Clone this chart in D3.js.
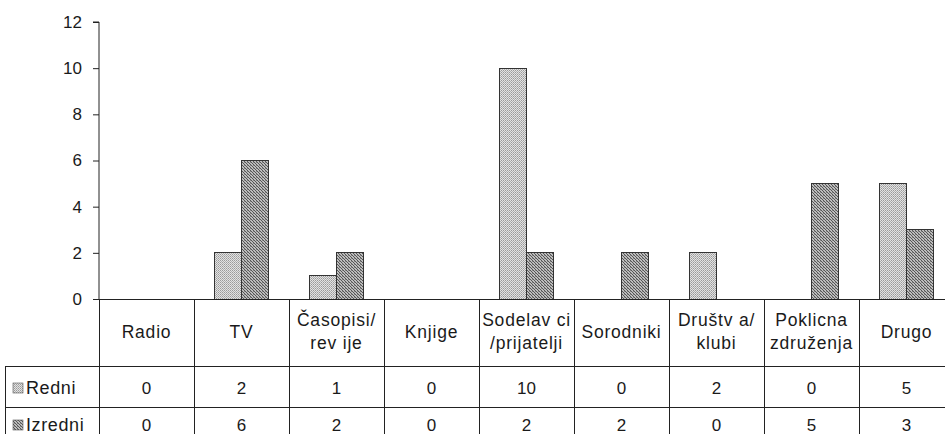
<!DOCTYPE html>
<html><head><meta charset="utf-8">
<script src="https://cdn.jsdelivr.net/npm/d3@7"></script>
<style>
html,body{margin:0;padding:0;background:#fff;}
svg{display:block;}
text{font-family:"Liberation Sans",Arial,sans-serif;fill:#1a1a1a;}
</style></head>
<body>
<svg id="c" width="945" height="434"></svg>
<script>
const categories = ["Radio","TV","Časopisi/\nrev ije","Knjige","Sodelav ci\n/prijatelji","Sorodniki","Društv a/\nklubi","Poklicna\nzdruženja","Drugo"];
const seriesNames = ["Redni","Izredni"];
const redni   = [0,2,1,0,10,0,2,0,5];
const izredni = [0,6,2,0,2,2,0,5,3];
const yTicks = [0,2,4,6,8,10,12];

const svg = d3.select("#c");
const defs = svg.append("defs");
const p1 = defs.append("pattern").attr("id","pRedni").attr("width",2).attr("height",2).attr("patternUnits","userSpaceOnUse");
p1.append("rect").attr("width",2).attr("height",2).attr("fill","#e2e2e2");
p1.append("rect").attr("width",1).attr("height",1).attr("fill","#9a9a9a");
p1.append("rect").attr("x",1).attr("y",1).attr("width",1).attr("height",1).attr("fill","#b0b0b0");
const p2 = defs.append("pattern").attr("id","pIzredni").attr("width",3).attr("height",3).attr("patternUnits","userSpaceOnUse");
p2.append("rect").attr("width",3).attr("height",3).attr("fill","#bdbdbd");
p2.append("rect").attr("x",0).attr("y",0).attr("width",1).attr("height",1).attr("fill","#555");
p2.append("rect").attr("x",1).attr("y",1).attr("width",1).attr("height",1).attr("fill","#555");
p2.append("rect").attr("x",2).attr("y",2).attr("width",1).attr("height",1).attr("fill","#555");
p2.append("rect").attr("x",2).attr("y",0).attr("width",1).attr("height",1).attr("fill","#8a8a8a");
const fills = {"Redni":"url(#pRedni)","Izredni":"url(#pIzredni)"};

const axisX = 99, colW = 95;
const y0 = 299, yTop = 22;
const x = d3.scaleBand().domain(categories).range([axisX, axisX + colW*categories.length]).padding(0);
const xs = d3.scaleBand().domain(seriesNames).range([20.5, 74.5]).padding(0);
const y = d3.scaleLinear().domain([0,12]).range([y0, yTop]);

const data = categories.map((c,i)=>({cat:c, vals:[{s:"Redni",v:redni[i]},{s:"Izredni",v:izredni[i]}]}));

const g = svg.append("g");
g.selectAll("g.cat").data(data).join("g").attr("class","cat")
  .attr("transform",d=>`translate(${x(d.cat)},0)`)
  .selectAll("rect").data(d=>d.vals.filter(v=>v.v>0)).join("rect")
  .attr("x",d=>xs(d.s)).attr("width",xs.bandwidth())
  .attr("y",d=>y(d.v)).attr("height",d=>y0-y(d.v))
  .attr("fill",d=>fills[d.s]).attr("stroke","#333").attr("stroke-width",1)
  .attr("shape-rendering","crispEdges");

const ax = svg.append("g").attr("transform",`translate(${axisX},0)`)
  .call(d3.axisLeft(y).tickValues(yTicks).tickSize(6).tickPadding(11).tickFormat(d3.format("d")));
ax.select(".domain").attr("stroke","#222").attr("d",`M-6,${yTop}H0V${y0}`);
ax.selectAll(".tick line").attr("stroke","#222");
ax.selectAll(".tick text").style("font-size","17px").attr("fill","#1a1a1a");

const rowTop = y0, row1 = 366, row2 = 407, bottom = 434, tableLeft = 5, right = 945;
const lines = svg.append("g").attr("stroke","#222").attr("stroke-width",1).attr("shape-rendering","crispEdges");
lines.append("line").attr("x1",axisX-6).attr("x2",right).attr("y1",y0).attr("y2",y0);
lines.append("line").attr("x1",axisX).attr("x2",axisX).attr("y1",y0).attr("y2",bottom);
categories.forEach(c=>{
  const xe = x(c)+x.bandwidth();
  lines.append("line").attr("x1",xe).attr("x2",xe).attr("y1",y0).attr("y2",bottom);
});
lines.append("line").attr("x1",tableLeft).attr("x2",right).attr("y1",row1).attr("y2",row1);
lines.append("line").attr("x1",tableLeft).attr("x2",right).attr("y1",row2).attr("y2",row2);
lines.append("line").attr("x1",tableLeft).attr("x2",tableLeft).attr("y1",row1).attr("y2",bottom);

const lab = svg.append("g");
categories.forEach(c=>{
  const parts = c.split("\n");
  const cx = x(c)+x.bandwidth()/2;
  const mid = (rowTop+row1)/2 - 1;
  const lh = 23;
  parts.forEach((p,i)=>{
    lab.append("text").attr("x",cx).attr("y",mid + (i-(parts.length-1)/2)*lh)
      .attr("text-anchor","middle").attr("dominant-baseline","central")
      .style("font-size","17.5px").style("letter-spacing","0.8px").text(p);
  });
});

const rows = [{name:"Redni",vals:redni,yc:388},{name:"Izredni",vals:izredni,yc:425}];
rows.forEach(r=>{
  svg.append("rect").attr("x",13).attr("y",r.yc-5).attr("width",10).attr("height",10)
    .attr("fill",fills[r.name]).attr("stroke","#555").attr("stroke-width",0.6);
  svg.append("text").attr("x",26).attr("y",r.yc).attr("dominant-baseline","central")
    .style("font-size","18px").style("letter-spacing","0.6px").text(r.name);
  categories.forEach((c,i)=>{
    svg.append("text").attr("x",x(c)+x.bandwidth()/2).attr("y",r.yc)
      .attr("text-anchor","middle").attr("dominant-baseline","central")
      .style("font-size","17px").text(r.vals[i]);
  });
});
</script>
</body></html>
